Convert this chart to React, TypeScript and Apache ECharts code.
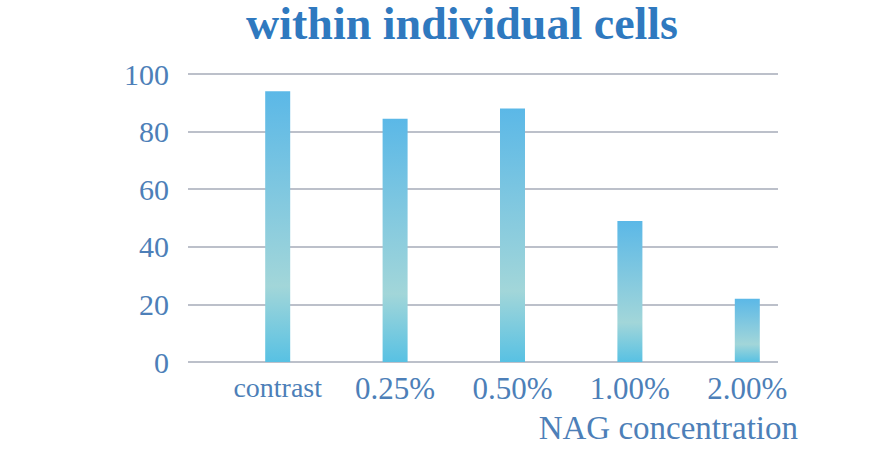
import React, { useEffect, useRef } from "react";
import * as echarts from "echarts";

const categories = ["contrast", "0.25%", "0.50%", "1.00%", "2.00%"];
const values = [94, 84.5, 88, 49, 22];
const yTicks = { min: 0, max: 100, interval: 20 };
const titleText = "within individual cells";
const xName = "NAG concentration";

const SERIF = "'Liberation Serif', 'Times New Roman', serif";
const LABEL = "#4d7fb8";

export default function App() {
  const ref = useRef<HTMLDivElement>(null);
  useEffect(() => {
    if (!ref.current) return;
    const chart = echarts.init(ref.current, undefined, { renderer: "svg" });
    chart.setOption({
      animation: false,
      backgroundColor: "#ffffff",
      title: [
        {
          text: titleText,
          left: 462,
          top: 0,
          padding: 0,
          textAlign: "center",
          textStyle: {
            fontFamily: SERIF,
            fontSize: 46,
            fontWeight: "bold",
            color: "#2f79bf",
          },
        },
        {
          text: xName,
          right: 67,
          top: 406,
          textStyle: { fontFamily: SERIF, fontSize: 33, fontWeight: "normal", color: LABEL },
        },
      ],
      grid: [
        { left: 188, right: 92, top: 74, bottom: 87 },
        { left: 219, right: 64, top: 74, bottom: 87 },
      ],
      xAxis: [
        { type: "category", gridIndex: 0, data: categories, show: false },
        {
          type: "category",
          gridIndex: 1,
          data: categories,
          axisLine: { show: false },
          axisTick: { show: false },
          axisLabel: {
            interval: 0,
            fontFamily: SERIF,
            fontSize: 31,
            color: LABEL,
            margin: 11,
            formatter: (v: string) => (v === "contrast" ? "{s|" + v + "}" : v),
            rich: { s: { fontFamily: SERIF, fontSize: 28, color: LABEL } },
          },
        },
      ],
      yAxis: [
        {
          type: "value",
          gridIndex: 0,
          min: yTicks.min,
          max: yTicks.max,
          interval: yTicks.interval,
          axisLine: { show: false },
          axisTick: { show: false },
          axisLabel: { fontFamily: SERIF, fontSize: 30, color: LABEL, margin: 19 },
          splitLine: { lineStyle: { color: "#bcc0ca", width: 2 } },
        },
        {
          type: "value",
          gridIndex: 1,
          min: yTicks.min,
          max: yTicks.max,
          interval: yTicks.interval,
          show: false,
          splitLine: { show: false },
        },
      ],
      series: [
        {
          type: "bar",
          xAxisIndex: 1,
          yAxisIndex: 1,
          data: values,
          barWidth: 25,
          itemStyle: {
            color: new echarts.graphic.LinearGradient(0, 0, 0, 1, [
              { offset: 0, color: "#5bb8e7" },
              { offset: 0.72, color: "#a2d6d9" },
              { offset: 1, color: "#58c1e3" },
            ]),
          },
        },
      ],
    });
    return () => chart.dispose();
  }, []);
  return (
    <div
      ref={ref}
      style={{ position: "fixed", left: 0, top: 0, width: 870, height: 449 }}
    />
  );
}
